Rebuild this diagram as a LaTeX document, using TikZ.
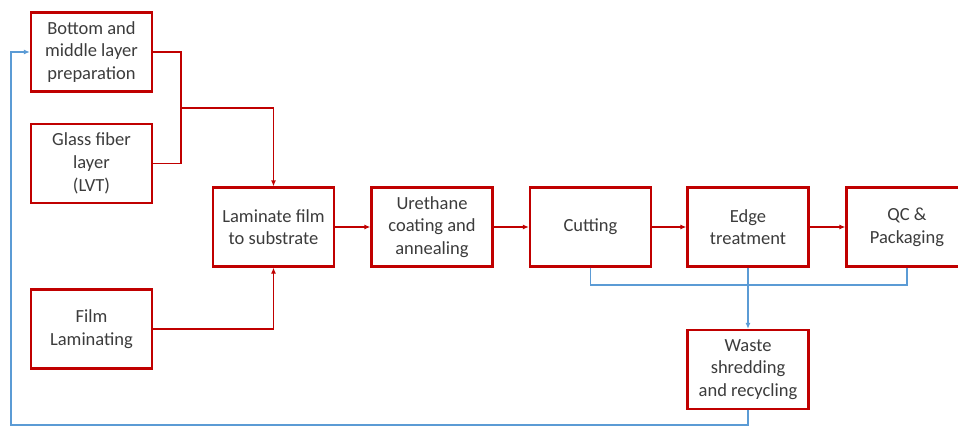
\documentclass[tikz,border=0pt]{standalone}
\usepackage{fontspec}
\setmainfont{Carlito}
\usepackage{tikz}
\usetikzlibrary{arrows.meta,positioning}
\definecolor{boxred}{RGB}{192,0,0}
\definecolor{flowblue}{RGB}{91,155,213}
\definecolor{textgray}{RGB}{60,60,60}

\tikzset{
  procbox/.style={draw=boxred, line width=2.2pt, fill=white, align=center,
    minimum width=121pt, minimum height=79pt, inner sep=2pt, text=textgray,
    font=\fontsize{18.5}{22.7}\selectfont},
  redflow/.style={draw=boxred, line width=1.6pt},
  blueflow/.style={draw=flowblue, line width=1.6pt},
  tip/.style={-{Latex[length=6pt,width=5pt]}}
}

\begin{document}
\begin{tikzpicture}[x=1pt,y=-1pt]
    \useasboundingbox (0,0) rectangle (958,428);

    % Input layers
    \node[procbox] (bottom) at (91.5,52) {Bottom and\\middle layer\\preparation};
    \node[procbox] (glass) at (91.5,163.5) {Glass fiber\\layer\\(LVT)};
    \node[procbox] (film) at (91.5,329) {Film\\Laminating};

    % Main line
    \node[procbox] (laminate) at (273.5,227) {Laminate film\\to substrate};
    \node[procbox] (urethane) at (432,227) {Urethane\\coating and\\annealing};
    \node[procbox] (cutting) at (590.5,227) {Cutting};
    \node[procbox] (edge) at (748,227) {Edge\\treatment};
    \node[procbox] (qc) at (907,227) {QC \&\\Packaging};

    % Recycling
    \node[procbox] (waste) at (748,369.5) {Waste\\shredding\\and recycling};

    % Merge of the two layers
    \coordinate (merge) at (181,108);
    \draw[redflow] (bottom.east) -| (merge);
    \draw[redflow] (glass.east) -| (merge);
    \draw[redflow, tip] (merge) -| (laminate.north);
    \draw[redflow, tip] (film.east) -| (laminate.south);

    % Process chain
    \draw[redflow, tip] (laminate) -- (urethane);
    \draw[redflow, tip] (urethane) -- (cutting);
    \draw[redflow, tip] (cutting) -- (edge);
    \draw[redflow, tip] (edge) -- (qc);

    % Waste collection
    \coordinate (collect) at (748,285);
    \draw[blueflow] (cutting.south) |- (collect);
    \draw[blueflow] (qc.south) |- (collect);
    \draw[blueflow, tip] (edge.south) -- (waste.north);

    % Return to the start
    \coordinate (back) at (11,425);
    \draw[blueflow, tip] (waste.south) |- (back) |- (bottom.west);
\end{tikzpicture}
\end{document}
